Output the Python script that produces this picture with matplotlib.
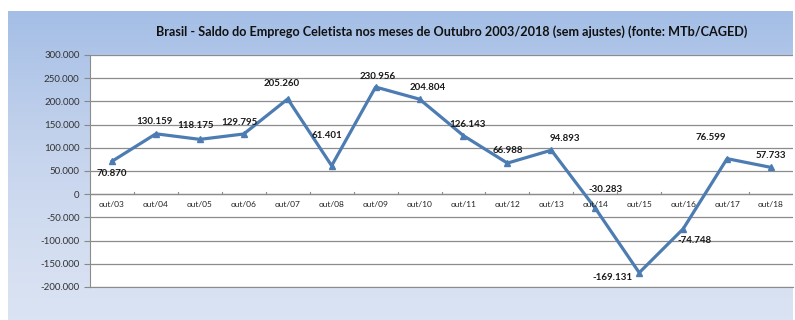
import numpy as np
import matplotlib.pyplot as plt
import matplotlib.ticker as mticker
from matplotlib.colors import LinearSegmentedColormap

plt.rcParams['font.family'] = ['Lato', 'DejaVu Sans']

# dados: saldo do emprego celetista em outubro de cada ano
meses = ['out/03', 'out/04', 'out/05', 'out/06', 'out/07', 'out/08', 'out/09', 'out/10',
         'out/11', 'out/12', 'out/13', 'out/14', 'out/15', 'out/16', 'out/17', 'out/18']
saldo = [70870, 130159, 118175, 129795, 205260, 61401, 230956, 204804,
         126143, 66988, 94893, -30283, -169131, -74748, 76599, 57733]
rotulos = ['70.870', '130.159', '118.175', '129.795', '205.260', '61.401', '230.956', '204.804',
           '126.143', '66.988', '94.893', '-30.283', '-169.131', '-74.748', '76.599', '57.733']
yticks = [300000, 250000, 200000, 150000, 100000, 50000, 0, -50000, -100000, -150000, -200000]

# deslocamento (pixels) de cada rotulo em relacao ao ponto
offsets = [(0, -12), (-1, 12), (-4, 14), (-4, 11), (-6, 15), (-5, 30), (2, 11), (8, 12),
           (4, 11), (0, 13), (14, 12), (10, 19), (-27, -5), (11, -12), (-16, 21), (0, 12)]

fig = plt.figure(figsize=(7.95, 3.2), dpi=100)

# fundo em degrade (vertical)
bg = fig.add_axes([8/795, 0, 1 - 10/795, 1 - 11/320], zorder=-10)
cmap = LinearSegmentedColormap.from_list('fundo', ['#dae3f3', '#c3d2ec', '#a4bee6'])
grad = np.linspace(0, 1, 256).reshape(-1, 1) ** 1.3
bg.imshow(grad, cmap=cmap, aspect='auto', origin='lower', extent=[0, 1, 0, 1], vmin=0, vmax=1)
bg.axis('off')

ax = fig.add_axes([90/795, 1 - 287/320, 1 - 92/795, 232/320])
ax.set_facecolor('white')
x = np.arange(len(meses))
ax.plot(x, saldo, color='#4d7cb2', lw=2.3, marker='^', ms=4, zorder=3)

for xi, v, lab, off in zip(x, saldo, rotulos, offsets):
    ax.annotate(lab, (xi, v), xytext=off, textcoords='offset pixels',
                ha='center', va='center', fontsize=7, fontweight='bold', color='#1a1a1a')

ax.set_xlim(-0.5, len(meses) - 0.5)
ax.set_ylim(-200000, 300000)
ax.set_yticks(yticks)
ax.yaxis.set_major_formatter(mticker.FuncFormatter(lambda v, p: f'{int(v):,}'.replace(',', '.')))
ax.tick_params(axis='y', labelsize=7, colors='#333333', length=4, width=0.8, color='#888888')
ax.grid(axis='y', color='#8c8c8c', lw=0.9)
ax.set_axisbelow(True)

ax.set_xticks([])
ax.axhline(0, color='#8c8c8c', lw=0.9, zorder=1)
for xi in np.arange(0.5, len(meses) - 0.5, 1):
    ax.plot([xi, xi], [0, 4000], color='#8c8c8c', lw=0.8, zorder=1)
for xi, m in zip(x, meses):
    ax.annotate(m, (xi, 0), xytext=(0, -10), textcoords='offset pixels',
                ha='center', va='center', fontsize=6, color='#222222')

for s in ['top', 'right']:
    ax.spines[s].set_visible(False)
ax.spines['bottom'].set_color('#8c8c8c')
ax.spines['left'].set_color('#8c8c8c')

fig.text(452/795, 1 - 32/320,
         'Brasil - Saldo do Emprego Celetista nos meses de Outubro 2003/2018 (sem ajustes) (fonte: MTb/CAGED)',
         ha='center', va='center', fontsize=9.1, fontweight='bold', color='#111111')

fig.savefig('out.png', dpi=100)
